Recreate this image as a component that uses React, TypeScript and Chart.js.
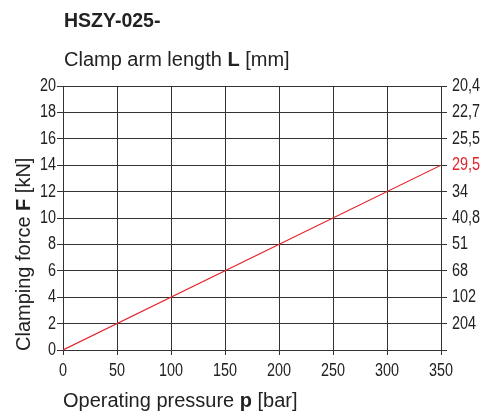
import React, { useEffect, useRef } from "react";
import { Chart, registerables } from "chart.js";

Chart.register(...registerables);

const pressure = [0, 350];
const force = [0, 14];
const xTicks = [0, 50, 100, 150, 200, 250, 300, 350];
const yTicks = [0, 2, 4, 6, 8, 10, 12, 14, 16, 18, 20];
const armLengths = ["", "204", "102", "68", "51", "40,8", "34", "29,5", "25,5", "22,7", "20,4"];
const highlightedArm = "29,5";

const TEXT = "#222";
const GRID = "#333";
const RED = "#e3232b";
const TICK_FONT = "18px 'Liberation Sans', Arial, sans-serif";
const NARROW = 0.8;
const TITLE_FONT = "'Liberation Sans', Arial, sans-serif";

// Draws condensed tick labels (the reference uses a narrow face) at the scales' own tick pixels.
const narrowTicks = {
  id: "narrowTicks",
  afterDraw(chart: any) {
    const ctx = chart.ctx as CanvasRenderingContext2D;
    const { x, y, y2 } = chart.scales;
    const draw = (label: string, px: number, py: number, align: CanvasTextAlign, color: string) => {
      ctx.save();
      ctx.translate(px, py);
      ctx.scale(NARROW, 1);
      ctx.font = TICK_FONT;
      ctx.fillStyle = color;
      ctx.textAlign = align;
      ctx.textBaseline = "middle";
      ctx.fillText(label, 0, 0);
      ctx.restore();
    };
    xTicks.forEach((v) => draw(String(v), x.getPixelForValue(v), x.top + 21, "center", TEXT));
    yTicks.forEach((v) => draw(String(v), y.right - 7, y.getPixelForValue(v), "right", TEXT));
    yTicks.forEach((v, i) => {
      const lab = armLengths[i];
      if (lab) draw(lab, y2.left + 11, y2.getPixelForValue(v), "left", lab === highlightedArm ? RED : TEXT);
    });
  },
};

export default function App() {
  const ref = useRef<HTMLCanvasElement | null>(null);

  useEffect(() => {
    if (!ref.current) return;
    const chart = new Chart(ref.current, {
      type: "line",
      data: {
        datasets: [
          {
            data: pressure.map((p, i) => ({ x: p, y: force[i] })),
            borderColor: RED,
            borderWidth: 1.2,
            pointRadius: 0,
            tension: 0,
          },
        ],
      },
      options: {
        animation: false,
        responsive: false,
        maintainAspectRatio: false,
        layout: { padding: { top: 86, left: 0, right: 0, bottom: 0 } },
        plugins: { legend: { display: false }, tooltip: { enabled: false }, title: { display: false } },
        scales: {
          x: {
            type: "linear",
            min: xTicks[0],
            max: xTicks[xTicks.length - 1],
            afterBuildTicks: (s: any) => { s.ticks = xTicks.map((v) => ({ value: v })); },
            afterFit: (s: any) => { s.height = 62; },
            ticks: { display: false },
            grid: { color: GRID, lineWidth: 1, tickLength: 5 },
            border: { color: GRID, width: 1 },
          },
          y: {
            type: "linear",
            position: "left",
            min: yTicks[0],
            max: yTicks[yTicks.length - 1],
            afterBuildTicks: (s: any) => { s.ticks = yTicks.map((v) => ({ value: v })); },
            afterFit: (s: any) => { s.width = 63; },
            ticks: { display: false },
            grid: { color: GRID, lineWidth: 1, tickLength: 6 },
            border: { color: GRID, width: 1 },
          },
          y2: {
            type: "linear",
            position: "right",
            min: yTicks[0],
            max: yTicks[yTicks.length - 1],
            afterBuildTicks: (s: any) => { s.ticks = yTicks.map((v) => ({ value: v })); },
            afterFit: (s: any) => { s.width = 41; },
            ticks: { display: false },
            grid: { color: GRID, lineWidth: 1, tickLength: 6, drawOnChartArea: false },
            border: { color: GRID, width: 1 },
          },
        },
      },
      plugins: [narrowTicks],
    });
    return () => chart.destroy();
  }, []);

  const txt: React.CSSProperties = {
    position: "absolute",
    fontFamily: TITLE_FONT,
    fontSize: 20,
    lineHeight: "20px",
    color: TEXT,
    whiteSpace: "nowrap",
  };

  return (
    <div style={{ position: "fixed", left: 0, top: 0, width: 482, height: 412, background: "#fff" }}>
      <canvas ref={ref} width={482} height={412} style={{ position: "absolute", left: 0, top: 0, width: 482, height: 412 }} />
      <div style={{ ...txt, left: 64, top: 10, fontSize: 19.5, fontWeight: "bold" }}>HSZY-025-</div>
      <div style={{ ...txt, left: 64, top: 49 }}>
        Clamp arm length <b>L</b> [mm]
      </div>
      <div style={{ ...txt, left: 63, top: 390 }}>
        Operating pressure <b>p</b> [bar]
      </div>
      <div style={{ ...txt, left: 13, top: 351, transform: "rotate(-90deg)", transformOrigin: "0 0" }}>
        Clamping force <b>F</b> [kN]
      </div>
    </div>
  );
}
